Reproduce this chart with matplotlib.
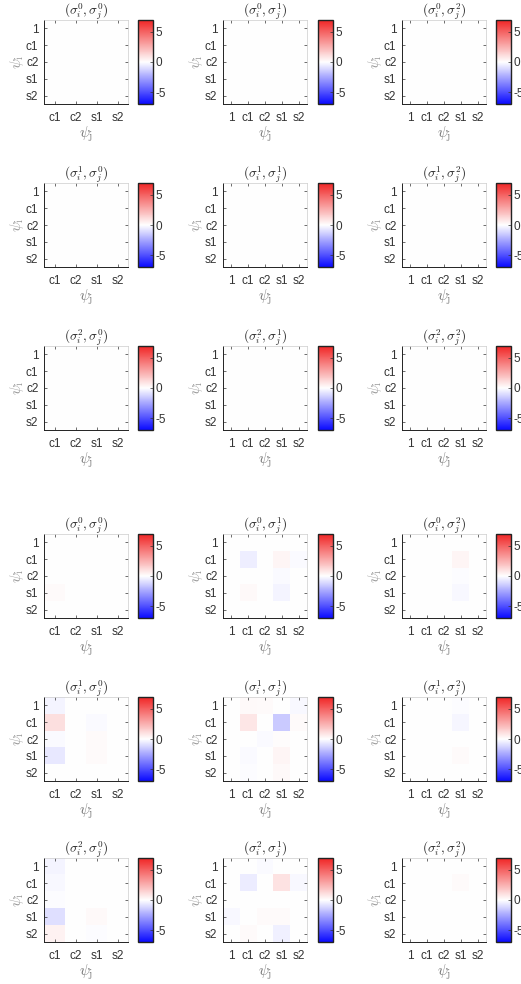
import numpy as np
import matplotlib
matplotlib.use("Agg")
import matplotlib.pyplot as plt
from matplotlib.colors import LinearSegmentedColormap

plt.rcParams['font.family'] = ['Liberation Sans', 'DejaVu Sans']
plt.rcParams['mathtext.fontset'] = 'cm'

# labels of the basis functions
row_labels = ['1', 'c1', 'c2', 's1', 's2']
col_labels_first = ['c1', 'c2', 's1', 's2']
col_labels = ['1', 'c1', 'c2', 's1', 's2']
cbar_ticks = [-5, 0, 5]
vlim = 6.9

# top block: all zeros
top_00 = np.zeros((5, 4))
top_01 = np.zeros((5, 5))
top_02 = np.zeros((5, 5))
top_10 = np.zeros((5, 4))
top_11 = np.zeros((5, 5))
top_12 = np.zeros((5, 5))
top_20 = np.zeros((5, 4))
top_21 = np.zeros((5, 5))
top_22 = np.zeros((5, 5))

bot_00 = np.array([[0.0, 0.0, 0.0, 0.0],
                   [0.0, 0.0, 0.0, 0.0],
                   [0.0, 0.0, 0.0, 0.0],
                   [0.15, 0.0, 0.0, 0.0],
                   [0.0, 0.0, 0.0, 0.0]])
bot_01 = np.array([[0.0, 0.0, 0.0, 0.0, 0.0],
                   [0.0, -0.45, 0.0, 0.3, -0.15],
                   [0.0, 0.0, 0.0, -0.15, 0.0],
                   [0.0, 0.2, 0.0, -0.3, 0.0],
                   [0.0, 0.0, 0.0, 0.0, 0.0]])
bot_02 = np.array([[0.0, 0.0, 0.0, 0.0, 0.0],
                   [0.0, 0.0, 0.0, 0.3, 0.0],
                   [0.0, 0.0, 0.0, -0.1, 0.0],
                   [0.0, 0.0, 0.0, -0.2, 0.0],
                   [0.0, 0.0, 0.0, 0.0, 0.0]])
bot_10 = np.array([[-0.3, 0.0, 0.0, 0.0],
                   [1.0, 0.0, -0.15, 0.0],
                   [-0.15, 0.0, 0.12, 0.0],
                   [-0.6, 0.0, 0.12, 0.0],
                   [0.0, 0.0, 0.0, 0.0]])
bot_11 = np.array([[0.0, 0.2, 0.15, 0.05, -0.2],
                   [0.0, 0.8, 0.0, -1.5, 0.15],
                   [0.0, 0.0, -0.15, 0.1, 0.0],
                   [0.0, -0.15, 0.0, 0.3, 0.0],
                   [0.0, -0.1, 0.0, 0.2, 0.0]])
bot_12 = np.array([[0.0, 0.0, 0.0, -0.1, 0.0],
                   [0.0, 0.0, 0.0, -0.25, 0.0],
                   [0.0, 0.0, 0.0, 0.0, 0.0],
                   [0.0, 0.0, 0.0, 0.15, 0.0],
                   [0.0, 0.0, 0.0, 0.0, 0.0]])
bot_20 = np.array([[-0.3, 0.0, 0.0, 0.0],
                   [-0.2, 0.0, 0.0, 0.0],
                   [-0.1, 0.0, 0.0, 0.0],
                   [-0.9, 0.0, 0.2, 0.0],
                   [0.4, 0.0, -0.1, 0.0]])
bot_21 = np.array([[0.0, 0.0, -0.15, 0.0, 0.0],
                   [0.0, -0.5, 0.0, 0.9, -0.2],
                   [0.0, 0.0, 0.0, 0.0, 0.0],
                   [-0.2, 0.0, 0.15, 0.15, 0.0],
                   [0.0, 0.15, 0.0, -0.4, 0.0]])
bot_22 = np.array([[0.0, 0.0, 0.0, 0.0, 0.0],
                   [0.0, 0.0, 0.0, 0.15, 0.0],
                   [0.0, 0.0, 0.0, 0.0, 0.0],
                   [0.0, 0.0, 0.0, 0.0, 0.0],
                   [0.0, 0.0, 0.0, 0.0, 0.0]])

panels = [[top_00, top_01, top_02],
          [top_10, top_11, top_12],
          [top_20, top_21, top_22],
          [bot_00, bot_01, bot_02],
          [bot_10, bot_11, bot_12],
          [bot_20, bot_21, bot_22]]

cmap = LinearSegmentedColormap.from_list('bwr2', ['#0a0aff', '#ffffff', '#f02525'])

W, H = 521, 984
fig = plt.figure(figsize=(W / 100, H / 100), dpi=100)

ax_left = [44, 223, 402]
cb_left = [138, 318, 496]
row_top = [20, 183, 346, 534, 697, 858]
aw, ah, cw = 84, 84, 15

for r in range(6):
    for c in range(3):
        data = panels[r][c]
        ax = fig.add_axes([ax_left[c] / W, 1 - (row_top[r] + ah) / H, aw / W, ah / H])
        im = ax.imshow(data, cmap=cmap, vmin=-vlim, vmax=vlim, aspect='auto',
                       interpolation='nearest')
        xl = col_labels_first if c == 0 else col_labels
        ax.set_xticks(range(len(xl)))
        ax.set_xticklabels(xl)
        ax.set_yticks(range(5))
        ax.set_yticklabels(row_labels)
        ax.tick_params(direction='in', length=2, width=0.5, labelsize=8.5,
                       colors='#333333', top=True, right=True)
        ax.tick_params(axis='x', pad=6)
        ax.tick_params(axis='y', pad=4)
        for s in ['left', 'bottom']:
            ax.spines[s].set_color('#222222')
            ax.spines[s].set_linewidth(0.7)
        for s in ['top', 'right']:
            ax.spines[s].set_color('#cccccc')
            ax.spines[s].set_linewidth(0.5)
        sr = r % 3
        ax.set_title(r'$(\sigma_i^{%d}, \sigma_j^{%d})$' % (sr, c), fontsize=9.5,
                     color='#222222', pad=4)
        ax.set_xlabel(r'$\psi_{\mathrm{j}}$', fontsize=11, color='#777777', labelpad=0)
        ax.set_ylabel(r'$\psi_{\mathrm{i}}$', fontsize=11, color='#999999', labelpad=0)

        cax = fig.add_axes([cb_left[c] / W, 1 - (row_top[r] + ah) / H, cw / W, ah / H])
        cb = fig.colorbar(im, cax=cax, ticks=cbar_ticks)
        cb.outline.set_linewidth(1.0)
        cb.outline.set_edgecolor('#222222')
        cax.tick_params(direction='in', length=2, width=0.5, labelsize=8.5,
                        colors='#333333', pad=2)
        cb.set_ticklabels(['-5', '0', '5'])

fig.savefig('out.png', dpi=100)
